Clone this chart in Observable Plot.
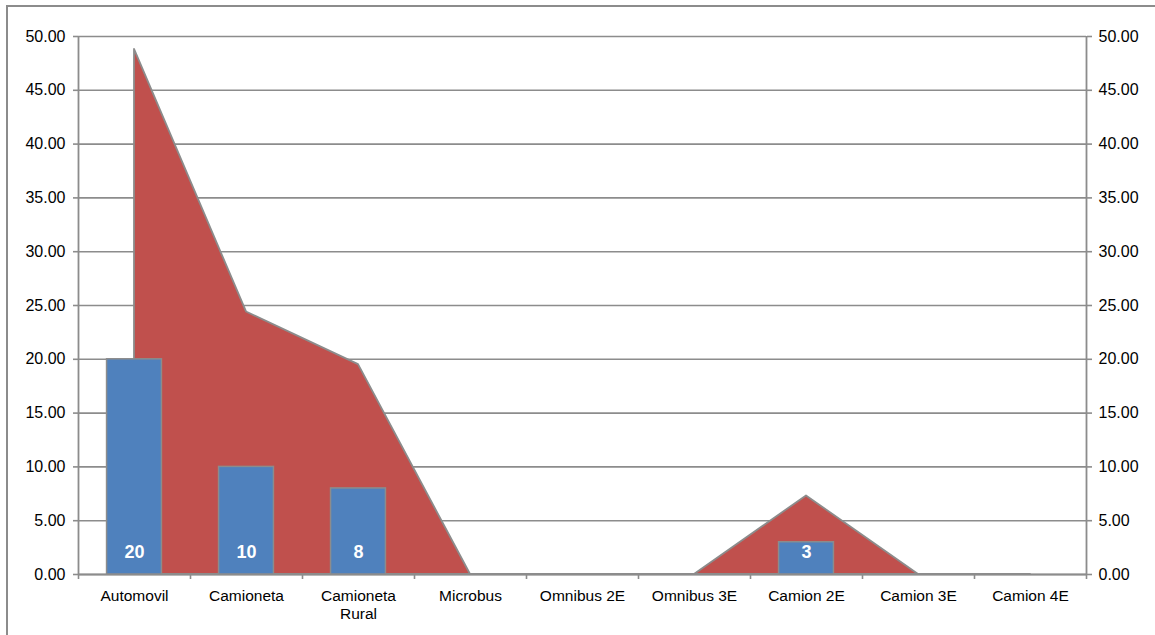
<!DOCTYPE html>
<html>
<head>
<meta charset="utf-8">
<script src="https://cdn.jsdelivr.net/npm/d3@7"></script>
<script src="https://cdn.jsdelivr.net/npm/@observablehq/plot@0.6"></script>
<style>
  html, body { margin: 0; padding: 0; background: #fff; }
  #wrap { position: relative; width: 1155px; height: 635px; overflow: hidden; }
  #frame { position: absolute; left: 6px; top: 5px; width: 1300px; height: 800px; border: 2px solid #8c8c8c; box-sizing: border-box; }
  #chart { position: absolute; left: 0; top: 0; }
</style>
</head>
<body>
<div id="wrap"><div id="frame"></div><div id="chart"></div></div>
<script>
const categories = ["Automovil", "Camioneta", "Camioneta\nRural", "Microbus", "Omnibus 2E", "Omnibus 3E", "Camion 2E", "Camion 3E", "Camion 4E"];
const barValues = [20, 10, 8, 0, 0, 0, 3, 0, 0];
const areaValues = [48.8, 24.4, 19.5, 0, 0, 0, 7.3, 0, 0];
const yTicks = [0, 5, 10, 15, 20, 25, 30, 35, 40, 45, 50];

const data = categories.map((c, i) => ({i, cat: c, bar: barValues[i], area: areaValues[i]}));
const bars = data.filter(d => d.bar > 0);
const xBounds = categories.map((_, i) => i - 0.5).concat([categories.length - 0.5]);
const font = "Liberation Sans, Arial, sans-serif";
const grid = "#8c8c8c";

const chart = Plot.plot({
  width: 1155,
  height: 635,
  marginLeft: 78,
  marginRight: 69,
  marginTop: 36,
  marginBottom: 61,
  style: {fontFamily: font, fontSize: "16px", background: "transparent"},
  x: {type: "linear", domain: [-0.5, categories.length - 0.5], axis: null, label: null},
  y: {domain: [0, 50], axis: null, label: null},
  marks: [
    Plot.ruleY(yTicks, {stroke: grid, strokeWidth: 1.6}),
    Plot.areaY(data, {x: "i", y: "area", fill: "#C0504D", stroke: grid, strokeWidth: 1.8}),
    Plot.ruleX([-0.5, categories.length - 0.5], {stroke: grid, strokeWidth: 1.8}),
    Plot.ruleY([0], {stroke: grid, strokeWidth: 1.8}),
    Plot.rectY(bars, {x1: d => d.i - 0.245, x2: d => d.i + 0.245, y: "bar", fill: "#4F81BD", stroke: grid, strokeWidth: 1.5}),
    Plot.text(bars, {x: "i", y: 0, dy: -22, text: d => String(d.bar), fill: "white", fontWeight: "bold", fontSize: 18, fontFamily: font}),
    Plot.axisY({anchor: "left", ticks: yTicks, tickSize: 5, tickPadding: 8, tickFormat: d => d.toFixed(2), stroke: grid, strokeWidth: 1.6, color: "#000", fontSize: 16, label: null}),
    Plot.axisY({anchor: "right", ticks: yTicks, tickSize: 5, tickPadding: 7, tickFormat: d => d.toFixed(2), stroke: grid, strokeWidth: 1.6, color: "#000", fontSize: 16, label: null}),
    Plot.axisX({ticks: xBounds, tickSize: 5, tickFormat: () => "", stroke: grid, strokeWidth: 1.6, label: null}),
    Plot.text(data, {x: "i", y: 0, dy: 14, lineAnchor: "top", text: "cat", lineHeight: 1.15, fill: "#000", fontSize: 15.5, fontFamily: font})
  ]
});
document.getElementById("chart").appendChild(chart);
</script>
</body>
</html>
